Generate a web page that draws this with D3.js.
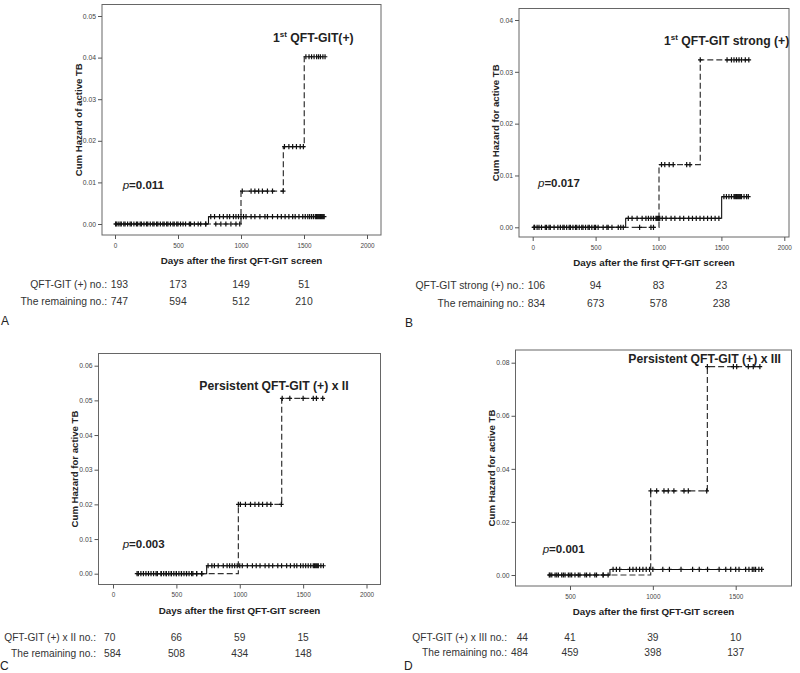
<!DOCTYPE html>
<html><head><meta charset="utf-8">
<script src="https://cdn.jsdelivr.net/npm/d3@7"></script>
<style>body{margin:0;background:#fff} svg{display:block} text{font-family:Arial,"Liberation Sans",sans-serif}</style>
</head><body><svg id="c" width="800" height="673"></svg>
<script>
// ---------------- DATA ----------------
const riskTimes = [0, 500, 1000, 1500];
const xTicksFull = [0, 500, 1000, 1500, 2000];
const xTicksD = [500, 1000, 1500];
const yTicksA = [0, 0.01, 0.02, 0.03, 0.04, 0.05];
const yTicksB = [0, 0.01, 0.02, 0.03, 0.04];
const yTicksC = [0, 0.01, 0.02, 0.03, 0.04, 0.05, 0.06];
const yTicksD = [0, 0.02, 0.04, 0.06, 0.08];

const xTitle = "Days after the first QFT-GIT screen";
const yTitles = ["Cum Hazard of active TB", "Cum Hazard for active TB", "Cum Hazard for active TB", "Cum Hazard for active TB"];
const titleLead = ["1", "1", "", ""];
const titleSup = ["st", "st", "", ""];
const titleMain = [" QFT-GIT(+)", " QFT-GIT strong (+)", "Persistent QFT-GIT (+) x II", "Persistent QFT-GIT (+) x III"];
const pValues = ["0.011", "0.017", "0.003", "0.001"];
const panelLetters = ["A", "B", "C", "D"];
const riskLabelPos = ["QFT-GIT (+) no.:", "QFT-GIT strong (+) no.:", "QFT-GIT (+) x II no.:", "QFT-GIT (+) x III no.:"];
const riskLabelRem = "The remaining no.:";

const riskPosA = [193, 173, 149, 51];
const riskRemA = [747, 594, 512, 210];
const riskPosB = [106, 94, 83, 23];
const riskRemB = [834, 673, 578, 238];
const riskPosC = [70, 66, 59, 15];
const riskRemC = [584, 508, 434, 148];
const riskPosD = [44, 41, 39, 10];
const riskRemD = [484, 459, 398, 137];

// step curves: [day, cumulative hazard]
const stepsPosA = [[0, 0], [1000, 0.0079], [1336, 0.0186], [1502, 0.0402], [1667, 0.0402]];
const stepsRemA = [[0, 0], [742, 0.00176], [1667, 0.00176]];
const stepsPosB = [[0, 0], [1004, 0.0121], [1332, 0.0323], [1720, 0.0323]];
const stepsRemB = [[0, 0], [739, 0.00174], [1502, 0.0059], [1714, 0.0059]];
const stepsPosC = [[187, 0], [989, 0.0200], [1331, 0.0506], [1660, 0.0506]];
const stepsRemC = [[187, 0], [739, 0.0023], [1660, 0.0023]];
const stepsPosD = [[370, 0], [987, 0.0317], [1329, 0.0785], [1657, 0.0785]];
const stepsRemD = [[370, 0], [741, 0.0021], [1657, 0.0021]];

// censored times
const censorPosA = [5, 40, 80, 120, 170, 210, 260, 300, 340, 380, 420, 460, 500, 540, 600, 660, 720, 800, 840, 880, 920, 960, 990,
  1010, 1080, 1110, 1140, 1170, 1210, 1250, 1335, 1345, 1380, 1410, 1440, 1470, 1495, 1515, 1540, 1560, 1580, 1600, 1615, 1630, 1650, 1667];
const censorRemA = [10, 25, 50, 70, 100, 130, 150, 180, 200, 230, 250, 280, 310, 330, 360, 390, 410, 440, 470, 490, 520, 560, 590, 630, 680, 720,
  760, 790, 830, 860, 890, 910, 940, 960, 980, 1000, 1020, 1040, 1080, 1110, 1150, 1190, 1210, 1250, 1290, 1320, 1350, 1380, 1410, 1430,
  1460, 1490, 1510, 1530, 1545, 1560, 1575, 1590, 1600, 1610, 1620, 1630, 1640, 1650, 1660];
const censorPosB = [10, 50, 100, 140, 200, 250, 300, 350, 400, 450, 500, 600, 700, 850, 940, 960,
  1024, 1050, 1085, 1117, 1224, 1250, 1332, 1545, 1580, 1600, 1620, 1640, 1660, 1690, 1718];
const censorRemB = [15, 35, 70, 110, 130, 170, 220, 240, 270, 290, 320, 340, 370, 390, 420, 440, 470, 490, 520, 560, 590, 630, 680, 720,
  760, 790, 830, 870, 900, 920, 940, 960, 980, 990, 1000, 1010, 1030, 1060, 1100, 1130, 1170, 1200, 1240, 1270, 1300, 1330, 1360, 1390,
  1420, 1450, 1480, 1520, 1540, 1560, 1580, 1600, 1610, 1620, 1630, 1640, 1650, 1660, 1680, 1700, 1714];
const censorPosC = [190, 220, 260, 300, 340, 380, 420, 460, 500, 540, 580, 620, 660, 700, 989,
  1005, 1045, 1085, 1120, 1150, 1180, 1215, 1245, 1328, 1335, 1395, 1500, 1580, 1605, 1655];
const censorRemC = [200, 240, 280, 320, 350, 380, 400, 420, 440, 460, 480, 500, 520, 540, 560, 580, 600, 630, 660, 700,
  750, 780, 800, 830, 870, 900, 920, 940, 960, 980, 1000, 1020, 1060, 1100, 1130, 1160, 1200, 1230, 1260, 1300, 1330, 1370,
  1400, 1430, 1450, 1480, 1500, 1520, 1540, 1560, 1580, 1590, 1600, 1610, 1620, 1640, 1660];
const censorPosD = [380, 420, 460, 500, 550, 600, 650, 700, 987, 1023, 1067, 1093, 1127, 1188, 1214, 1325, 1329, 1486, 1506, 1576, 1606, 1646];
const censorRemD = [375, 390, 410, 430, 450, 470, 490, 510, 530, 560, 590, 620, 660, 700, 730,
  760, 780, 800, 860, 880, 900, 920, 940, 960, 980, 1000, 1060, 1100, 1170, 1240, 1280, 1330, 1400, 1440, 1470, 1500, 1520,
  1560, 1580, 1600, 1610, 1620, 1640, 1657];

// ---------------- LAYOUT ----------------
const panels = [
  { frame: [102, 381, 4.5, 235], xMap: [[0, 115], [2000, 367]], yMap: [[0, 224], [0.05, 16]], xTicks: xTicksFull, yTicks: yTicksA,
    pos: stepsPosA, rem: stepsRemA, cPos: censorPosA, cRem: censorRemA, rPos: riskPosA, rRem: riskRemA,
    titleX: 273, titleY: 41.7, pX: 122.7, pY: 189.3, row1: 287.5, row2: 304.5, labelEnd: null, valX: 128, valAnchor: "end",
    letterX: 1, letterY: 325, fs: 10.4 },
  { frame: [519, 789, 8.5, 237], xMap: [[0, 532.7], [2000, 784.3]], yMap: [[0, 227.3], [0.04, 20]], xTicks: xTicksFull, yTicks: yTicksB,
    pos: stepsPosB, rem: stepsRemB, cPos: censorPosB, cRem: censorRemB, rPos: riskPosB, rRem: riskRemB,
    titleX: 664, titleY: 45, pX: 538, pY: 186.7, row1: 288.5, row2: 306.5, labelEnd: null, valX: 545, valAnchor: "end",
    letterX: 405, letterY: 327, fs: 10.4 },
  { frame: [98.5, 380.5, 353.5, 584.5], xMap: [[0, 113], [2000, 366.5]], yMap: [[0, 573.7], [0.06, 365.7]], xTicks: xTicksFull, yTicks: yTicksC,
    pos: stepsPosC, rem: stepsRemC, cPos: censorPosC, cRem: censorRemC, rPos: riskPosC, rRem: riskRemC,
    titleX: 199.3, titleY: 390, pX: 122.7, pY: 547.7, row1: 640.5, row2: 656.5, labelEnd: 96, valX: 104, valAnchor: "start",
    letterX: 0, letterY: 669.5, fs: 10.2 },
  { frame: [515.5, 791.5, 350, 586], xMap: [[500, 570], [1500, 735.7]], yMap: [[0, 575], [0.08, 362.7]], xTicks: xTicksD, yTicks: yTicksD,
    pos: stepsPosD, rem: stepsRemD, cPos: censorPosD, cRem: censorRemD, rPos: riskPosD, rRem: riskRemD,
    titleX: 628.3, titleY: 362.7, pX: 542.7, pY: 552.7, row1: 641, row2: 655.5, labelEnd: 507, valX: 528, valAnchor: "end",
    letterX: 404, letterY: 669.5, fs: 10.2 }
];

const svg = d3.select("#c");
const txt = "#222";

function stepVal(steps, t) {
  let v = steps[0][1];
  for (const s of steps) { if (s[0] <= t) v = s[1]; }
  return v;
}

panels.forEach((p, i) => {
  const [L, R, T, B] = p.frame;
  const x = d3.scaleLinear().domain([p.xMap[0][0], p.xMap[1][0]]).range([p.xMap[0][1], p.xMap[1][1]]);
  const y = d3.scaleLinear().domain([p.yMap[0][0], p.yMap[1][0]]).range([p.yMap[0][1], p.yMap[1][1]]);
  const g = svg.append("g");

  g.append("rect").attr("x", L).attr("y", T).attr("width", R - L).attr("height", B - T)
    .attr("fill", "none").attr("stroke", "#666").attr("stroke-width", 1);

  const ya = g.append("g").attr("transform", `translate(${L},0)`)
    .call(d3.axisLeft(y).tickValues(p.yTicks).tickFormat(d3.format(".2f")).tickSize(4).tickPadding(2));
  ya.select(".domain").remove();
  ya.selectAll("line").attr("stroke", "#555");
  ya.selectAll("text").attr("font-size", 6.8).attr("fill", "#444").attr("font-family", "Arial, 'Liberation Sans', sans-serif");

  const xa = g.append("g").attr("transform", `translate(0,${B})`)
    .call(d3.axisBottom(x).tickValues(p.xTicks).tickFormat(d3.format("d")).tickSize(4).tickPadding(4));
  xa.select(".domain").remove();
  xa.selectAll("line").attr("stroke", "#555");
  xa.selectAll("text").attr("font-size", 6.4).attr("fill", "#444").attr("font-family", "Arial, 'Liberation Sans', sans-serif");

  // axis titles
  g.append("text").attr("x", (L + R) / 2).attr("y", B + 29).attr("text-anchor", "middle")
    .attr("font-weight", "bold").attr("font-size", 9.8).attr("fill", txt).text(xTitle);
  g.append("text").attr("transform", `translate(${L - 24},${(T + B) / 2}) rotate(-90)`)
    .attr("text-anchor", "middle").attr("dominant-baseline", "central")
    .attr("font-weight", "bold").attr("font-size", 9.6).attr("fill", txt).text(yTitles[i]);

  // curves
  const line = d3.line().x(d => x(d[0])).y(d => y(d[1])).curve(d3.curveStepAfter);
  g.append("path").attr("d", line(p.rem)).attr("fill", "none").attr("stroke", "#111").attr("stroke-width", 1.1);
  g.append("path").attr("d", line(p.pos)).attr("fill", "none").attr("stroke", "#333").attr("stroke-width", 1.2)
    .attr("stroke-dasharray", "6,3");

  const plus = (t, steps) => {
    const cx = x(t), cy = y(stepVal(steps, t));
    return `M${cx - 2.3},${cy}H${cx + 2.3}M${cx},${cy - 2.6}V${cy + 2.6}`;
  };
  g.append("path").attr("d", p.cRem.map(t => plus(t, p.rem)).join(""))
    .attr("fill", "none").attr("stroke", "#111").attr("stroke-width", 1.2);
  g.append("path").attr("d", p.cPos.map(t => plus(t, p.pos)).join(""))
    .attr("fill", "none").attr("stroke", "#111").attr("stroke-width", 1.2);

  // panel title
  const tt = g.append("text").attr("x", p.titleX).attr("y", p.titleY).attr("font-weight", "bold")
    .attr("font-size", 12.2).attr("fill", txt);
  if (titleLead[i]) {
    tt.append("tspan").text(titleLead[i]);
    tt.append("tspan").attr("font-size", 8).attr("dy", -5).text(titleSup[i]);
    tt.append("tspan").attr("dy", 5).text(titleMain[i]);
  } else {
    tt.append("tspan").text(titleMain[i]);
  }

  // p-value
  const pt = g.append("text").attr("x", p.pX).attr("y", p.pY).attr("font-size", 11.5).attr("fill", txt);
  pt.append("tspan").attr("font-style", "italic").text("p");
  pt.append("tspan").attr("font-weight", "bold").text("=" + pValues[i]);

  // number at risk
  [[riskLabelPos[i], p.rPos, p.row1], [riskLabelRem, p.rRem, p.row2]].forEach(([lab, vals, ry]) => {
    let firstStart = null;
    vals.forEach((v, k) => {
      if (k === 0) {
        const t0 = g.append("text").attr("x", p.valX).attr("y", ry).attr("text-anchor", p.valAnchor)
          .attr("font-size", p.fs).attr("fill", "#333").text(v);
        const w = t0.node().getComputedTextLength();
        firstStart = p.valAnchor === "end" ? p.valX - w : p.valX;
      } else {
        g.append("text").attr("x", x(riskTimes[k])).attr("y", ry).attr("text-anchor", "middle")
          .attr("font-size", p.fs).attr("fill", "#333").text(v);
      }
    });
    const le = p.labelEnd !== null ? p.labelEnd : firstStart - 3.5;
    g.append("text").attr("x", le).attr("y", ry).attr("text-anchor", "end")
      .attr("font-size", p.fs).attr("fill", "#333").text(lab);
  });

  g.append("text").attr("x", p.letterX).attr("y", p.letterY).attr("font-size", 12).attr("fill", txt).text(panelLetters[i]);
});
</script>
</body></html>
